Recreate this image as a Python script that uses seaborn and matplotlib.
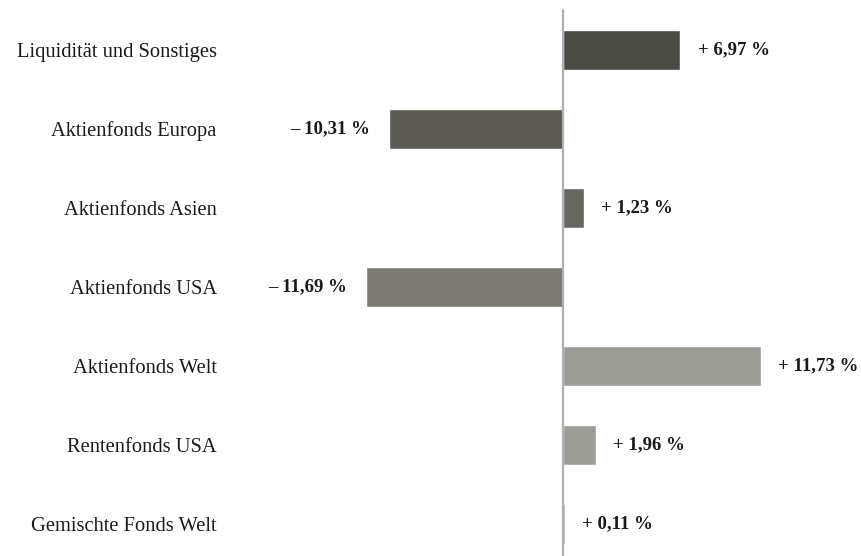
import numpy as np
import pandas as pd
import seaborn as sns
import matplotlib.pyplot as plt

# Daten
kategorien = ["Liquidität und Sonstiges", "Aktienfonds Europa", "Aktienfonds Asien",
              "Aktienfonds USA", "Aktienfonds Welt", "Rentenfonds USA", "Gemischte Fonds Welt"]
werte = [6.97, -10.31, 1.23, -11.69, 11.73, 1.96, 0.11]
beschriftung = ["+ 6,97 %", "– 10,31 %", "+ 1,23 %", "– 11,69 %", "+ 11,73 %", "+ 1,96 %", "+ 0,11 %"]
farben = ["#4a4b42", "#5a5a52", "#66675e", "#7a7a73", "#9d9d97", "#9d9d97", "#9d9d97"]

df = pd.DataFrame({"kategorie": kategorien, "wert": werte})

sns.set_style("white")
plt.rcParams["font.family"] = ["Liberation Serif", "DejaVu Serif"]

fig = plt.figure(figsize=(8.61, 5.56), dpi=100)
ax = fig.add_axes([225 / 861, 0, 1 - 225 / 861, 1])

sns.barplot(data=df, y="kategorie", x="wert", hue="kategorie", palette=farben,
            legend=False, width=0.5, ax=ax, saturation=1)

ax.set_xlim(-20.06, 17.69)
ax.set_ylim(6.405, -0.633)
ax.axvline(0, ymin=0, ymax=0.982, color="#b0b0b0", lw=1.6, zorder=1)

for i, (w, t) in enumerate(zip(werte, beschriftung)):
    if w >= 0:
        ax.annotate(t, (w, i), xytext=(12.5, 0), textcoords="offset points",
                    ha="left", va="center", fontsize=13.5, fontweight="bold", color="#1a1a1a")
    else:
        ax.annotate(t, (w, i), xytext=(-14, 0), textcoords="offset points",
                    ha="right", va="center", fontsize=13.5, fontweight="bold", color="#1a1a1a")

ax.set_xlabel("")
ax.set_ylabel("")
ax.set_xticks([])
ax.tick_params(axis="y", length=0, pad=6, labelsize=14.8, labelcolor="#1a1a1a")
sns.despine(ax=ax, left=True, bottom=True)

fig.savefig("out.png", dpi=100)
